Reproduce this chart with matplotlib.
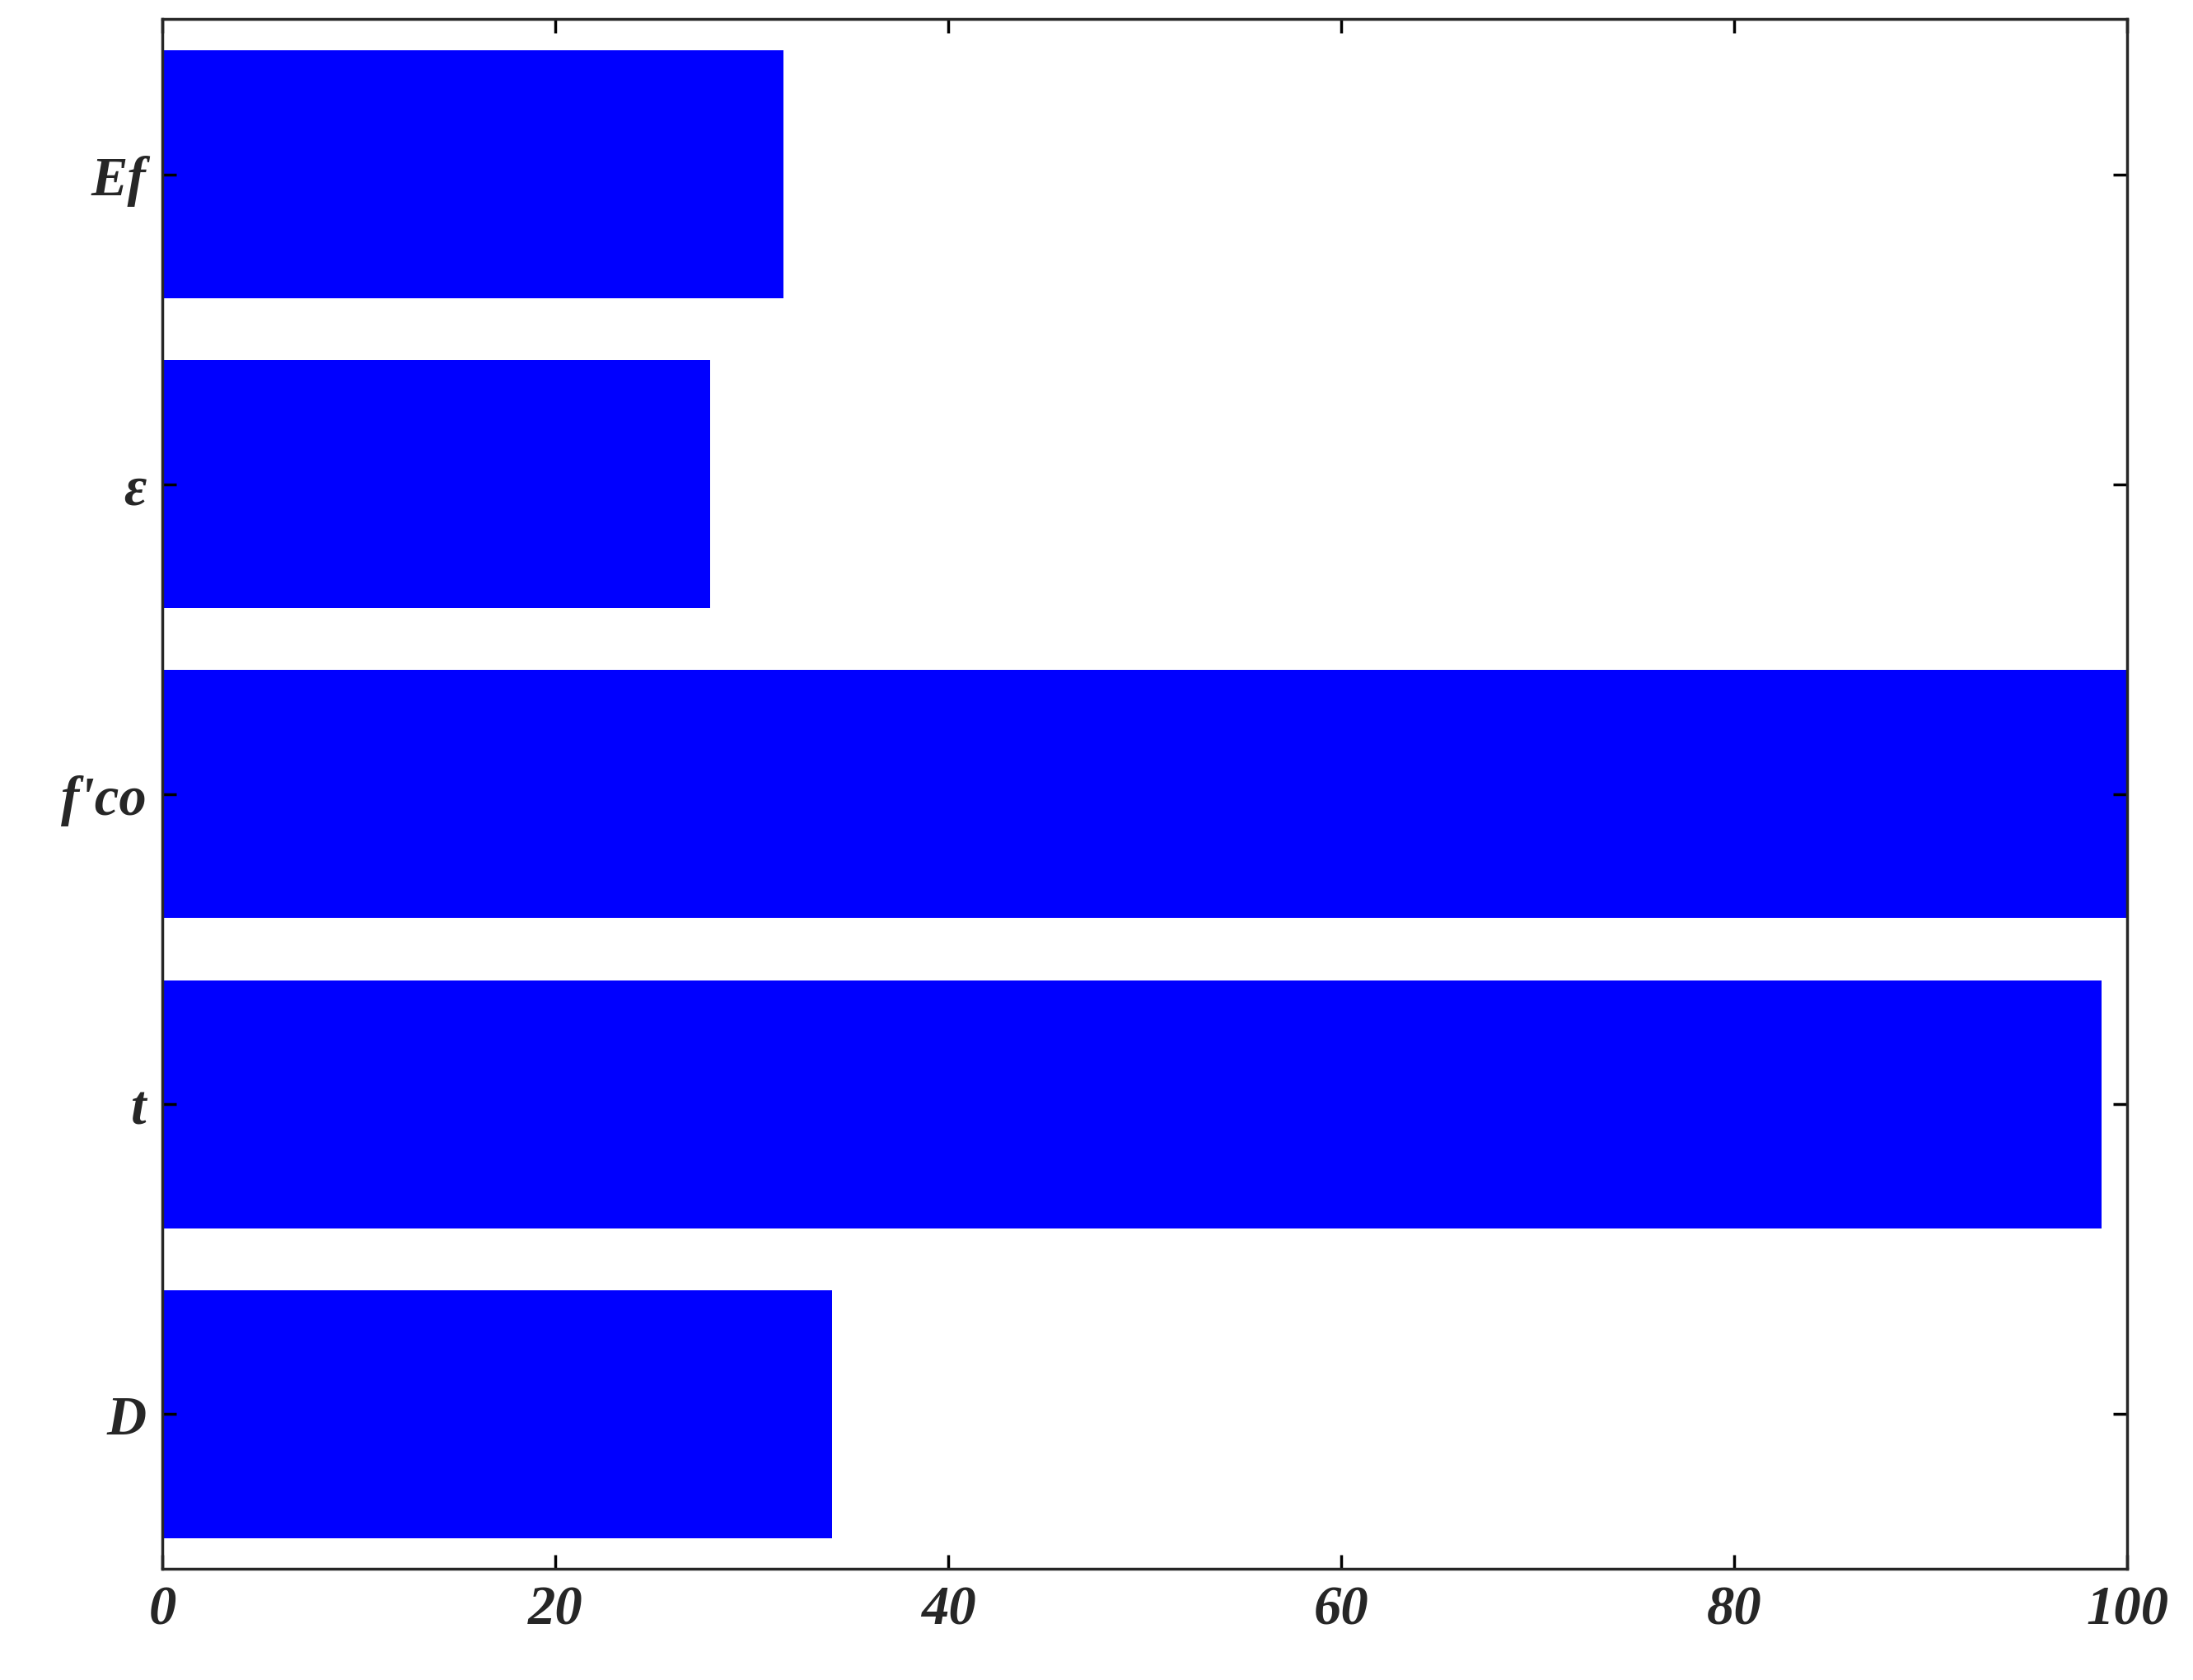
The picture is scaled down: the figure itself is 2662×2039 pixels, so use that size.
import matplotlib
matplotlib.use("Agg")
import matplotlib.pyplot as plt

labels = ["D", "t", "f'co", "ε", "Ef"]
values = [34.1, 98.7, 100.0, 27.9, 31.6]
xticks = [0, 20, 40, 60, 80, 100]

plt.rcParams["font.family"] = ["Liberation Serif", "DejaVu Serif"]

fig = plt.figure(figsize=(26.62, 20.40), dpi=100)
ax = fig.add_axes([0.074, 0.066, 0.896, 0.922])

pos = list(range(1, len(labels) + 1))
ax.barh(pos, values, height=0.8, color="#0000ff")

ax.set_xlim(0, 100)
ax.set_ylim(0.5, 5.5)
ax.set_xticks(xticks)
ax.set_yticks(pos)
ax.set_yticklabels(labels)
ax.set_xticklabels([str(v) for v in xticks])

for lab in ax.get_xticklabels() + ax.get_yticklabels():
    lab.set_fontsize(48)
    lab.set_fontweight("bold")
    lab.set_fontstyle("italic")
    lab.set_color("#262626")

ax.tick_params(direction="in", top=True, right=True, length=12, width=2.5,
               pad=14)
for s in ax.spines.values():
    s.set_linewidth(2.5)
    s.set_color("#262626")

fig.savefig("out.png", dpi=100)
